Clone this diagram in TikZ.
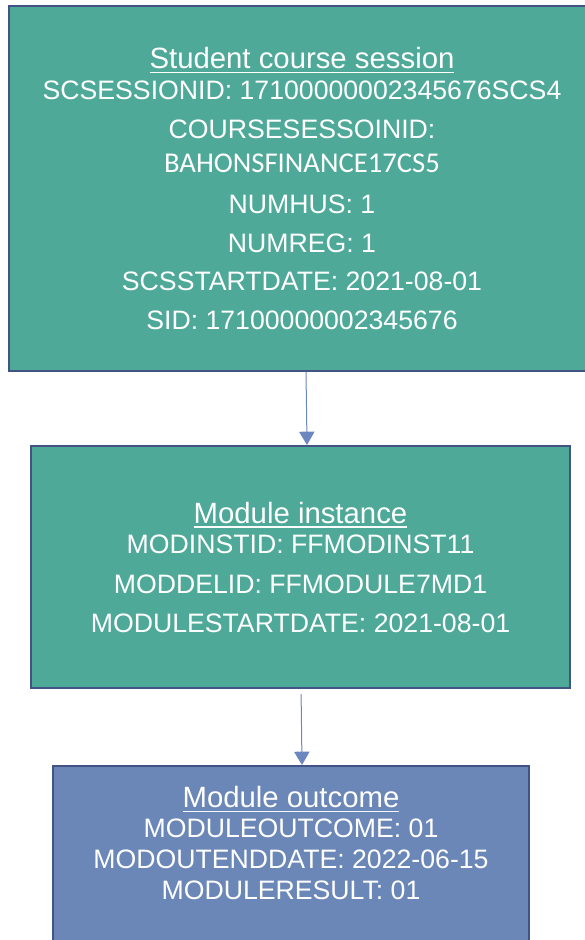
\documentclass[tikz,border=0pt]{standalone}
\usepackage{fontspec}
\setmainfont{Liberation Sans}
\newfontfamily\calibrifont{Carlito}
\usetikzlibrary{arrows.meta, positioning}
\definecolor{tealbox}{RGB}{78,169,153}
\definecolor{bluebox}{RGB}{106,135,184}
\definecolor{edgeblue}{RGB}{66,84,132}
\definecolor{arrowblue}{RGB}{108,134,192}
\newsavebox{\titlesave}
\newcommand{\boxtitle}[1]{{\fontsize{22}{23}\selectfont
  \sbox{\titlesave}{#1}\rlap{\usebox{\titlesave}}\rule[-3.6pt]{\wd\titlesave}{1.1pt}}}

\begin{document}
\begin{tikzpicture}[x=0.75pt, y=-0.75pt,
  box/.style={draw=edgeblue, line width=1.5pt, align=center, text=white,
    inner sep=0pt, font=\fontsize{20}{23}\selectfont},
  boxtext/.style={align=center, text=white, inner sep=0pt,
    font=\fontsize{20}{23}\selectfont},
  link/.style={-{Triangle[width=11.5pt,length=10pt]}, arrowblue, line width=0.75pt}]
  \useasboundingbox (0,0) rectangle (585,940);
  \clip (0,0) rectangle (585,940);
  % Student course session
  \node[box, fill=tealbox, minimum width=439.5pt, minimum height=273.75pt] (session) at (302,188.5)
    {\boxtitle{Student course session}\\
     SCSESSIONID: 17100000002345676SCS4\\[6.25pt]
     COURSESESSOINID:\\[2.5pt]
     {\calibrifont\fontsize{21.5}{23}\selectfont BAHONSFINANCE17CS5}\\[8.25pt]
     NUMHUS: 1\\[5.75pt]
     NUMREG: 1\\[5.75pt]
     SCSSTARTDATE: 2021-08-01\\[6.5pt]
     SID: 17100000002345676};
  % Module instance
  \node[box, fill=tealbox, minimum width=404.25pt, minimum height=181.5pt] (instance) at (300.5,567)
    {\boxtitle{Module instance}\\
     MODINSTID: FFMODINST11\\[6.75pt]
     MODDELID: FFMODULE7MD1\\[6pt]
     MODULESTARTDATE: 2021-08-01};
  % Module outcome
  \node[box, fill=bluebox, minimum width=357pt, minimum height=150pt, anchor=north] (outcome) at (291,765) {};
  \node[boxtext, below=15.5pt of outcome.north] (outcometext)
    {\boxtitle{Module outcome}\\
     MODULEOUTCOME: 01\\
     MODOUTENDDATE: 2022-06-15\\
     MODULERESULT: 01};
  % links
  \draw[link] ([xshift=3pt]session.south) -- ([xshift=4.9pt]instance.north);
  \draw[link, shorten <=3.75pt] ([xshift=0.4pt]instance.south) -- ([xshift=8.25pt]outcome.north);
\end{tikzpicture}
\end{document}
